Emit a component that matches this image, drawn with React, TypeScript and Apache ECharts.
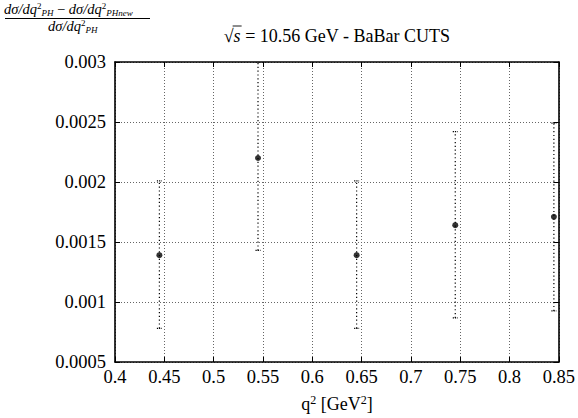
import React, { useEffect, useRef } from "react";
import * as echarts from "echarts";

const xValues = [0.445, 0.545, 0.645, 0.745, 0.845];
const centralValues = [0.00139, 0.0022, 0.00139, 0.00164, 0.00171];
const lowerValues = [0.00078, 0.00143, 0.00078, 0.000867, 0.000926];
const upperValues = [0.00201, 0.003, 0.00201, 0.00242, 0.00249];

const X_MIN = 0.4, X_MAX = 0.85, X_STEP = 0.05;
const Y_MIN = 0.0005, Y_MAX = 0.003, Y_STEP = 0.0005;

const TITLE_ROOT = "√";
const TITLE_VAR = "s";
const TITLE_REST = " = 10.56 GeV - BaBar CUTS";
const X_LABEL = "{r|q}{s|2}{r| [GeV}{s|2}{r|]}";
const NUM_TEXT = "{i|dσ/dq}{s|2}{b|PH}{r| − }{i|dσ/dq}{s|2}{b|PHnew}";
const DEN_TEXT = "{i|dσ/dq}{s|2}{b|PH}";

const SERIF = "Times New Roman";

function measure(text: string, font: string) {
  const c = document.createElement("canvas").getContext("2d")!;
  c.font = font;
  return c.measureText(text).width;
}

export default function App() {
  const ref = useRef<HTMLDivElement>(null);
  useEffect(() => {
    document.body.style.margin = "0";
    const chart = echarts.init(ref.current!, null, { renderer: "svg" });
    const gridLine = { show: true, lineStyle: { color: "#666", type: [1, 2] as any, width: 1 } };
    const axisBase = {
      type: "value" as const,
      axisLine: { show: true, onZero: false, lineStyle: { color: "#000", width: 1.6 } },
      axisTick: { show: true, inside: true, length: 5, lineStyle: { color: "#000", width: 1 } },
    };
    const errData = xValues.map((x, i) => [x, lowerValues[i], upperValues[i]]);

    const TFS = 18;
    const fTitle = `${TFS}px ${SERIF}`;
    const fTitleI = `italic ${TFS}px ${SERIF}`;
    const wRoot = measure(TITLE_ROOT, fTitle);
    const wVar = measure(TITLE_VAR, fTitleI);
    const wRest = measure(TITLE_REST, fTitle);
    const tW = wRoot + wVar + wRest;
    const tx0 = 337 - tW / 2;
    const tY = 36;

    const fracRich = {
      i: { fontFamily: SERIF, fontSize: 14.5, fontStyle: "italic", color: "#000", lineHeight: 16 },
      r: { fontFamily: SERIF, fontSize: 14.5, color: "#000", lineHeight: 16 },
      s: { fontFamily: SERIF, fontSize: 9, color: "#000", verticalAlign: "top", lineHeight: 16 },
      b: { fontFamily: SERIF, fontSize: 9, fontStyle: "italic", color: "#000", verticalAlign: "bottom", lineHeight: 16 },
    };

    const tickFont = { color: "#000", fontFamily: "Liberation Serif", fontSize: 18.5 };

    const option: any = {
      animation: false,
      backgroundColor: "#fff",
      textStyle: { fontFamily: "Liberation Serif" },
      grid: { left: 115, right: 19, top: 62, bottom: 50 },
      xAxis: [
        {
          ...axisBase,
          position: "bottom",
          min: X_MIN,
          max: X_MAX,
          interval: X_STEP,
          splitLine: gridLine,
          axisLabel: { ...tickFont, margin: 5, formatter: (v: number) => String(+v.toFixed(2)) },
          name: X_LABEL,
          nameLocation: "middle",
          nameGap: 32,
          nameTextStyle: {
            fontFamily: "Liberation Serif",
            rich: {
              r: { fontFamily: "Liberation Serif", fontSize: 18, color: "#000", lineHeight: 20 },
              s: { fontFamily: "Liberation Serif", fontSize: 12, color: "#000", verticalAlign: "top", lineHeight: 20 },
            },
          },
        },
        {
          ...axisBase,
          position: "top",
          min: X_MIN,
          max: X_MAX,
          interval: X_STEP,
          splitLine: { show: false },
          axisLabel: { show: false },
        },
      ],
      yAxis: [
        {
          ...axisBase,
          position: "left",
          min: Y_MIN,
          max: Y_MAX,
          interval: Y_STEP,
          splitLine: gridLine,
          axisLabel: { ...tickFont, margin: 9, formatter: (v: number) => String(+v.toFixed(4)) },
        },
        {
          ...axisBase,
          position: "right",
          min: Y_MIN,
          max: Y_MAX,
          interval: Y_STEP,
          splitLine: { show: false },
          axisLabel: { show: false },
        },
      ],
      graphic: [
        {
          type: "text",
          x: tx0,
          y: tY,
          style: { text: TITLE_ROOT, fontFamily: SERIF, fontSize: TFS, fill: "#000", verticalAlign: "middle" },
        },
        {
          type: "text",
          x: tx0 + wRoot,
          y: tY,
          style: { text: TITLE_VAR, fontFamily: SERIF, fontSize: TFS, fontStyle: "italic", fill: "#000", verticalAlign: "middle" },
        },
        {
          type: "text",
          x: tx0 + wRoot + wVar,
          y: tY,
          style: { text: TITLE_REST, fontFamily: SERIF, fontSize: TFS, fill: "#000", verticalAlign: "middle" },
        },
        {
          type: "line",
          shape: { x1: tx0 + wRoot - 1, y1: tY - 10, x2: tx0 + wRoot + wVar + 1, y2: tY - 10 },
          style: { stroke: "#000", lineWidth: 0.9 },
        },
        {
          type: "text",
          left: 4,
          top: 1,
          style: { text: NUM_TEXT, rich: fracRich },
        },
        {
          type: "line",
          shape: { x1: 5, y1: 18.5, x2: 150, y2: 18.5 },
          style: { stroke: "#000", lineWidth: 1 },
        },
        {
          type: "text",
          left: 48,
          top: 18,
          style: { text: DEN_TEXT, rich: fracRich },
        },
      ],
      series: [
        {
          type: "custom",
          xAxisIndex: 0,
          yAxisIndex: 0,
          clip: true,
          data: errData,
          renderItem: (params: any, api: any) => {
            const x = api.value(0);
            const lo = api.coord([x, api.value(1)]);
            const hi = api.coord([x, api.value(2)]);
            const cw = 2.5;
            const st = { stroke: "#000", lineWidth: 1.2, lineDash: [1.2, 2.6], fill: "none" };
            return {
              type: "group",
              children: [
                { type: "line", shape: { x1: lo[0], y1: lo[1], x2: hi[0], y2: hi[1] }, style: st },
                { type: "line", shape: { x1: lo[0] - cw, y1: lo[1], x2: lo[0] + cw, y2: lo[1] }, style: { ...st, lineDash: [1.2, 1] } },
                { type: "line", shape: { x1: hi[0] - cw, y1: hi[1], x2: hi[0] + cw, y2: hi[1] }, style: { ...st, lineDash: [1.2, 1] } },
              ],
            };
          },
          z: 3,
        },
        {
          type: "scatter",
          xAxisIndex: 0,
          yAxisIndex: 0,
          data: xValues.map((x, i) => [x, centralValues[i]]),
          symbol: "circle",
          symbolSize: 6,
          itemStyle: { color: "#000" },
          z: 4,
        },
      ],
    };
    chart.setOption(option);
    return () => chart.dispose();
  }, []);
  return <div ref={ref} style={{ position: "fixed", left: 0, top: 0, width: 578, height: 418 }} />;
}
